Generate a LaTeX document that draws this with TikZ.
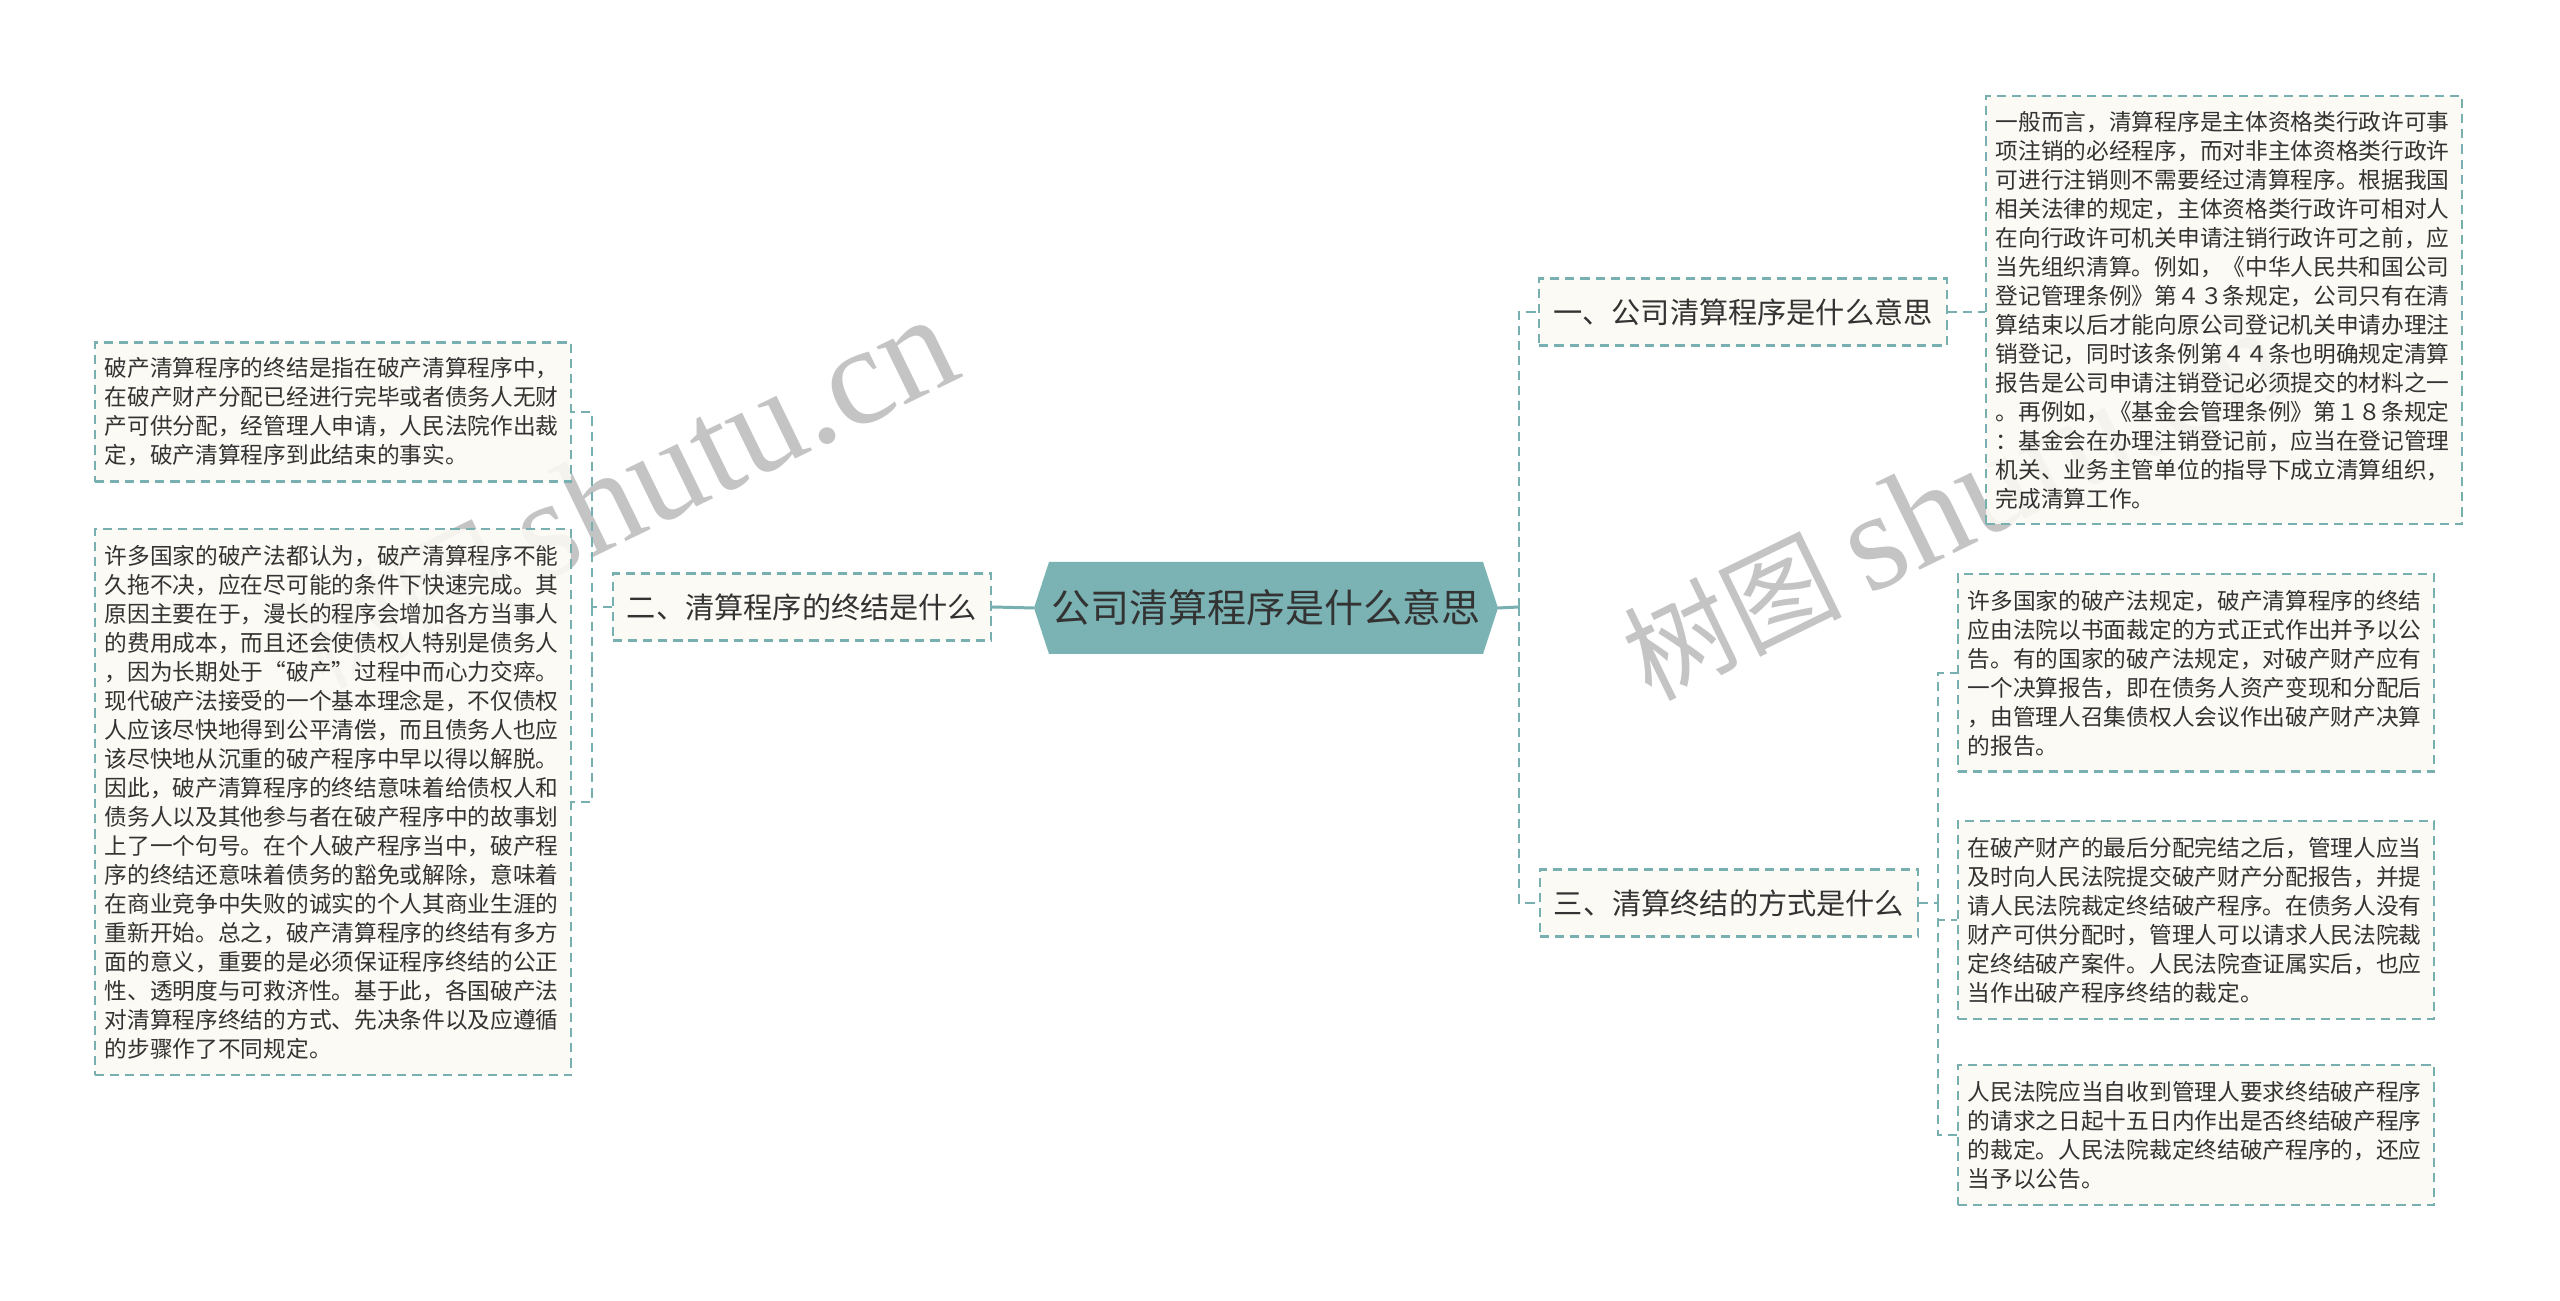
\documentclass[tikz,border=0pt]{standalone}
\usepackage{fontspec}
\setmainfont{Noto Sans CJK SC}
\newfontfamily\wmlatin{Liberation Serif}
\usetikzlibrary{calc,backgrounds}
\definecolor{tealline}{HTML}{78AFB0}
\definecolor{tealfill}{HTML}{7BB3B5}
\definecolor{boxfill}{HTML}{FCFAF3}
\definecolor{txt}{HTML}{333333}
\definecolor{wmgray}{HTML}{C4C4C4}

\begin{document}
\begin{tikzpicture}[x=0.01cm,y=-0.01cm,
  link/.style={tealline,line width=0.7pt,dash pattern=on 2.6pt off 1.7pt},
  trunk/.style={tealline,line width=0.85pt},
  detail/.style={draw=tealline,fill=boxfill,fill opacity=0.88,text opacity=1,line width=0.6pt,
    dash pattern=on 2.6pt off 1.7pt,
    text=txt,align=left,text width=4.56cm,inner xsep=0.1cm,inner ysep=0pt,minimum width=4.76cm,
    font=\fontsize{6.45pt}{8.25pt}\selectfont},
  topic/.style={draw=tealline,fill=boxfill,fill opacity=0.88,text opacity=1,line width=0.6pt,
    dash pattern=on 2.6pt off 1.7pt,
    text=txt,inner xsep=0.14cm,inner ysep=0pt,minimum height=0.67cm,
    font=\fontsize{8.3pt}{10pt}\selectfont},
  wm/.style={text=wmgray,anchor=base west,inner sep=0pt,rotate=26,font=\fontsize{31pt}{34pt}\selectfont}]
\begin{scope}[on background layer]
\fill[white] (0,0) rectangle (2560,1301);
\end{scope}
\useasboundingbox (0,0) rectangle (2560,1301);

% watermark
\node (wm1) at (322,690) [wm]{树图 {\wmlatin\fontsize{40pt}{44pt}\selectfont shutu.cn}};
\node (wm2) at (1650,702) [wm]{树图 {\wmlatin\fontsize{40pt}{44pt}\selectfont shutu.cn}};

% centre
\node (ctr) at (1266,608) [text=txt,inner sep=0pt,font=\fontsize{11.1pt}{13pt}\selectfont]{公司清算程序是什么意思};
\coordinate (ctrL) at ($(ctr.center)+(-232,0)$);
\coordinate (ctrR) at ($(ctr.center)+(232,0)$);
\begin{scope}[on background layer]
\fill[tealfill] ($(ctr.center)+(-217,-46)$) -- ($(ctr.center)+(217,-46)$) -- (ctrR)
  -- ($(ctr.center)+(217,46)$) -- ($(ctr.center)+(-217,46)$) -- (ctrL) -- cycle;
\end{scope}

% first level
\node (n1) at (1743,312) [topic]{一、公司清算程序是什么意思};
\node (n3) at (1729,903) [topic]{三、清算终结的方式是什么};
\node (n2) at (802,607) [topic]{二、清算程序的终结是什么};

% right side
\node (r1) at (2224,310) [detail,minimum height=4.28cm]{一般而言，清算程序是主体资格类行政许可事\\
项注销的必经程序，而对非主体资格类行政许\\
可进行注销则不需要经过清算程序。根据我国\\
相关法律的规定，主体资格类行政许可相对人\\
在向行政许可机关申请注销行政许可之前，应\\
当先组织清算。例如，《中华人民共和国公司\\
登记管理条例》第４３条规定，公司只有在清\\
算结束以后才能向原公司登记机关申请办理注\\
销登记，同时该条例第４４条也明确规定清算\\
报告是公司申请注销登记必须提交的材料之一\\
。再例如，《基金会管理条例》第１８条规定\\
：基金会在办理注销登记前，应当在登记管理\\
机关、业务主管单位的指导下成立清算组织，\\
完成清算工作。};
\node (r2) at (2196,673) [detail,minimum height=1.97cm]{许多国家的破产法规定，破产清算程序的终结\\
应由法院以书面裁定的方式正式作出并予以公\\
告。有的国家的破产法规定，对破产财产应有\\
一个决算报告，即在债务人资产变现和分配后\\
，由管理人召集债权人会议作出破产财产决算\\
的报告。};
\node (r3) at (2196,920) [detail,minimum height=1.98cm]{在破产财产的最后分配完结之后，管理人应当\\
及时向人民法院提交破产财产分配报告，并提\\
请人民法院裁定终结破产程序。在债务人没有\\
财产可供分配时，管理人可以请求人民法院裁\\
定终结破产案件。人民法院查证属实后，也应\\
当作出破产程序终结的裁定。};
\node (r4) at (2196,1135) [detail,minimum height=1.40cm]{人民法院应当自收到管理人要求终结破产程序\\
的请求之日起十五日内作出是否终结破产程序\\
的裁定。人民法院裁定终结破产程序的，还应\\
当予以公告。};

% left side
\node (l1) at (333,412) [detail,minimum height=1.39cm]{破产清算程序的终结是指在破产清算程序中，\\
在破产财产分配已经进行完毕或者债务人无财\\
产可供分配，经管理人申请，人民法院作出裁\\
定，破产清算程序到此结束的事实。};
\node (l2) at (333,802) [detail,minimum height=5.46cm]{许多国家的破产法都认为，破产清算程序不能\\
久拖不决，应在尽可能的条件下快速完成。其\\
原因主要在于，漫长的程序会增加各方当事人\\
的费用成本，而且还会使债权人特别是债务人\\
，因为长期处于“破产”过程中而心力交瘁。\\
现代破产法接受的一个基本理念是，不仅债权\\
人应该尽快地得到公平清偿，而且债务人也应\\
该尽快地从沉重的破产程序中早以得以解脱。\\
因此，破产清算程序的终结意味着给债权人和\\
债务人以及其他参与者在破产程序中的故事划\\
上了一个句号。在个人破产程序当中，破产程\\
序的终结还意味着债务的豁免或解除，意味着\\
在商业竞争中失败的诚实的个人其商业生涯的\\
重新开始。总之，破产清算程序的终结有多方\\
面的意义，重要的是必须保证程序终结的公正\\
性、透明度与可救济性。基于此，各国破产法\\
对清算程序终结的方式、先决条件以及应遵循\\
的步骤作了不同规定。};

% connectors
\coordinate (jr) at (1519,607);
\coordinate (j3) at (1938,903);
\coordinate (jl) at (592,607);
\draw[trunk] (ctrL) -- (n2.east);
\draw[trunk] (ctrR) -- (jr);
\draw[link] (jr) |- (n1.west);
\draw[link] (jr) |- (n3.west);
\draw[link] (n1.east) -- (n1.east -| r1.west);
\draw[link] (n3.east) -- (j3);
\draw[link] (j3) |- (r2.west);
\draw[link] (j3) |- (r3.west);
\draw[link] (j3) |- (r4.west);
\draw[link] (n2.west) -- (jl);
\draw[link] (jl) |- (l1.east);
\draw[link] (jl) |- (l2.east);
\end{tikzpicture}
\end{document}
